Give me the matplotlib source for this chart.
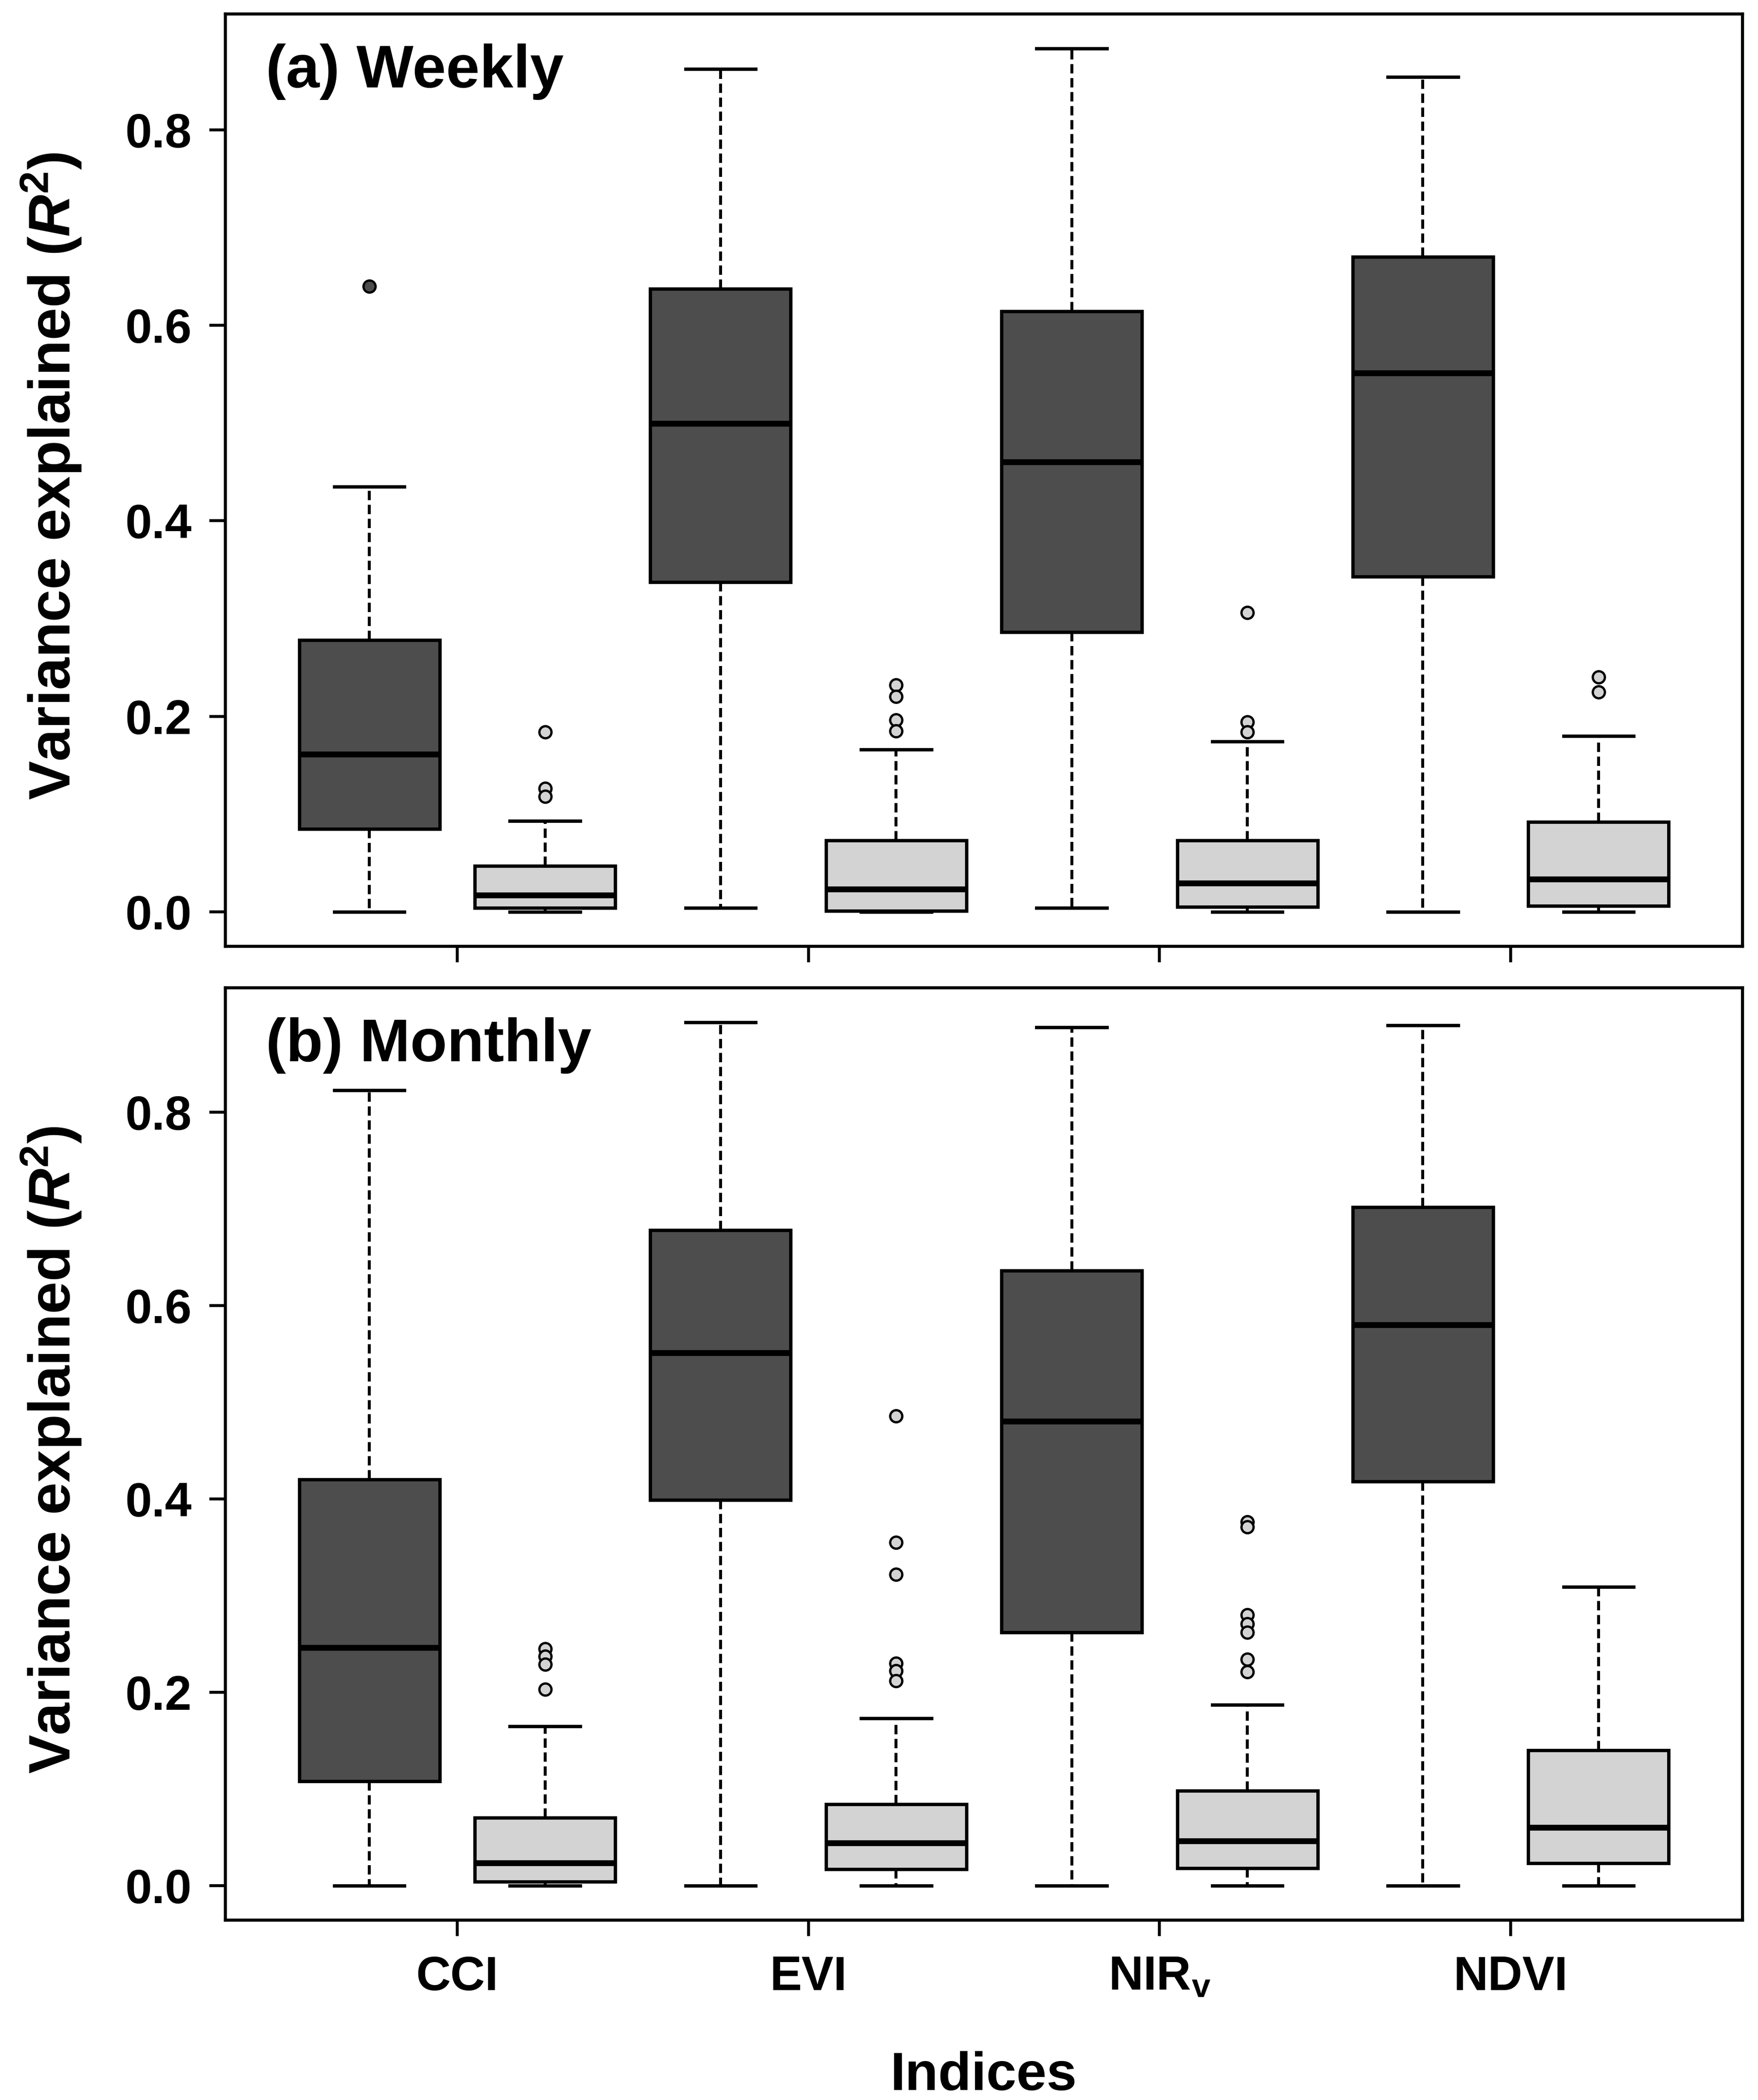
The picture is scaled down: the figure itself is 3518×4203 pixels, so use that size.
import matplotlib
matplotlib.use('Agg')
from matplotlib import pyplot as plt
from matplotlib import font_manager

plt.rcParams['font.family'] = ['Liberation Sans', 'DejaVu Sans']
plt.rcParams['font.weight'] = 'bold'
plt.rcParams['mathtext.fontset'] = 'custom'
plt.rcParams['mathtext.rm'] = 'Liberation Sans:bold'
plt.rcParams['mathtext.bf'] = 'Liberation Sans:bold'
plt.rcParams['mathtext.it'] = 'Liberation Sans:bold:italic'
plt.rcParams['mathtext.bfit'] = 'Liberation Sans:bold:italic'

# ---- data ----
indices = ['CCI', 'EVI', 'NIR$_\\mathbf{v}$', 'NDVI']
panel_titles = ['(a) Weekly', '(b) Monthly']

# weekly, dark boxes
wk_dark_lo = [0.000, 0.004, 0.004, 0.000]
wk_dark_q1 = [0.085, 0.337, 0.286, 0.343]
wk_dark_med = [0.161, 0.499, 0.460, 0.551]
wk_dark_q3 = [0.278, 0.637, 0.614, 0.670]
wk_dark_hi = [0.435, 0.862, 0.883, 0.854]
wk_dark_out = [[0.640], [], [], []]

# weekly, light boxes
wk_light_lo = [0.000, 0.000, 0.000, 0.000]
wk_light_q1 = [0.004, 0.001, 0.005, 0.006]
wk_light_med = [0.017, 0.023, 0.029, 0.033]
wk_light_q3 = [0.047, 0.073, 0.073, 0.092]
wk_light_hi = [0.093, 0.166, 0.174, 0.180]
wk_light_out = [[0.184, 0.126, 0.118],
                [0.232, 0.220, 0.196, 0.185],
                [0.306, 0.194, 0.184],
                [0.240, 0.225]]

# monthly, dark boxes
mo_dark_lo = [0.000, 0.000, 0.000, 0.000]
mo_dark_q1 = [0.108, 0.399, 0.262, 0.418]
mo_dark_med = [0.246, 0.551, 0.480, 0.580]
mo_dark_q3 = [0.420, 0.678, 0.636, 0.702]
mo_dark_hi = [0.823, 0.893, 0.888, 0.890]
mo_dark_out = [[], [], [], []]

# monthly, light boxes
mo_light_lo = [0.000, 0.000, 0.000, 0.000]
mo_light_q1 = [0.004, 0.017, 0.018, 0.023]
mo_light_med = [0.023, 0.044, 0.046, 0.060]
mo_light_q3 = [0.070, 0.084, 0.098, 0.140]
mo_light_hi = [0.165, 0.173, 0.187, 0.309]
mo_light_out = [[0.245, 0.237, 0.229, 0.203],
                [0.486, 0.355, 0.322, 0.230, 0.222, 0.212],
                [0.376, 0.371, 0.280, 0.271, 0.262, 0.234, 0.221],
                []]

DARK = '#4D4D4D'
LIGHT = '#D3D3D3'


def make_stats(lo, q1, med, q3, hi, out):
    return [dict(whislo=a, q1=b, med=c, q3=d, whishi=e, fliers=f)
            for a, b, c, d, e, f in zip(lo, q1, med, q3, hi, out)]


panels = [
    (make_stats(wk_dark_lo, wk_dark_q1, wk_dark_med, wk_dark_q3, wk_dark_hi, wk_dark_out),
     make_stats(wk_light_lo, wk_light_q1, wk_light_med, wk_light_q3, wk_light_hi, wk_light_out)),
    (make_stats(mo_dark_lo, mo_dark_q1, mo_dark_med, mo_dark_q3, mo_dark_hi, mo_dark_out),
     make_stats(mo_light_lo, mo_light_q1, mo_light_med, mo_light_q3, mo_light_hi, mo_light_out)),
]

W, H = 3518, 4203
fig = plt.figure(figsize=(W / 300, H / 300), dpi=300)

ax_left = 451 / W
ax_w = 3036 / W
ax_h = 1866 / H
ax_a = fig.add_axes([ax_left, 1 - 1894 / H, ax_w, ax_h])
ax_b = fig.add_axes([ax_left, 1 - 3843 / H, ax_w, ax_h])

ylab_y = [1 - 953 / H, 1 - 2902 / H]

names = {f.name for f in font_manager.fontManager.ttflist}
narrow = 'Liberation Sans Narrow' if 'Liberation Sans Narrow' in names else None

for k, (ax, (dark, light)) in enumerate(zip([ax_a, ax_b], panels)):
    n = len(dark)
    stats = []
    cols = []
    for d, l in zip(dark, light):
        stats += [d, l]
        cols += [DARK, LIGHT]
    pos = list(range(1, 2 * n + 1))
    res = ax.bxp(stats, positions=pos, widths=0.8, capwidths=0.4,
                 patch_artist=True, showfliers=True,
                 boxprops=dict(linewidth=1.6, edgecolor='black'),
                 whiskerprops=dict(linewidth=1.4, color='black',
                                   linestyle=(0, (3.2, 1.6))),
                 capprops=dict(linewidth=1.6, color='black'),
                 medianprops=dict(linewidth=2.8, color='black'),
                 flierprops=dict(marker='o', markersize=5.8,
                                 markeredgecolor='black',
                                 markeredgewidth=1.1, linestyle='none'))
    for patch, c in zip(res['boxes'], cols):
        patch.set_facecolor(c)
    for fl, c in zip(res['fliers'], cols):
        fl.set_markerfacecolor(c)

    # R-style axis limits (4% padding)
    vals = [v for s in stats for v in [s['whislo'], s['whishi']] + list(s['fliers'])]
    lo, hi = min(vals), max(vals)
    pad = 0.04 * (hi - lo)
    ax.set_ylim(lo - pad, hi + pad)
    ax.set_xlim(0.5 - 0.04 * 2 * n, 2 * n + 0.5 + 0.04 * 2 * n)

    ax.set_yticks([0.0, 0.2, 0.4, 0.6, 0.8])
    ax.set_yticklabels(['0.0', '0.2', '0.4', '0.6', '0.8'])
    ax.set_xticks([2 * i + 1.5 for i in range(n)])
    if k == 1:
        ax.set_xticklabels(indices)
    else:
        ax.set_xticklabels([])
    ax.tick_params(axis='both', direction='out', length=7.7, width=1.4,
                   labelsize=23)
    ax.tick_params(axis='y', pad=8.5)
    ax.tick_params(axis='x', pad=9)
    for sp in ax.spines.values():
        sp.set_linewidth(1.5)

    ax.text(0.0267, 0.9213, panel_titles[k], transform=ax.transAxes,
            fontsize=29, fontweight='bold', ha='left', va='baseline')

    fig.text(141 / W, ylab_y[k], 'Variance explained ($\\mathbfit{R}^\\mathbf{2}$)',
             rotation=90, rotation_mode='anchor', ha='center', va='baseline',
             fontsize=28, fontweight='bold')

if narrow:
    fig.text(ax_left + ax_w / 2, 1 - 4183 / H, 'Indices', family=narrow,
             fontsize=30, fontweight='bold', ha='center', va='baseline')
else:
    fig.text(ax_left + ax_w / 2, 1 - 4183 / H, 'Indices',
             fontsize=26, fontweight='bold', ha='center', va='baseline')

fig.savefig('out.png', dpi=300)
